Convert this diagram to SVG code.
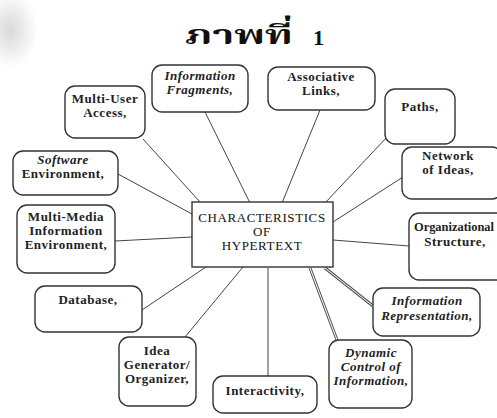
<svg xmlns="http://www.w3.org/2000/svg" width="497" height="418" viewBox="0 0 497 418">
<defs>
<radialGradient id="smudge" cx="0.5" cy="0.5" r="0.5">
<stop offset="0" stop-color="#c8c8c8" stop-opacity="0.7"/>
<stop offset="1" stop-color="#c8c8c8" stop-opacity="0"/>
</radialGradient>
</defs>
<style>
.box{fill:#fff;stroke:#333;stroke-width:1.4}
.t{font-family:"Liberation Serif","DejaVu Serif",serif;font-size:13px;font-weight:bold;fill:#222;text-anchor:middle;letter-spacing:0.5px}
.ti{font-style:italic}
.c{font-family:"Liberation Serif","DejaVu Serif",serif;font-size:13px;fill:#111;text-anchor:middle;letter-spacing:0.6px}
.ln{stroke:#444;stroke-width:1;fill:none}
.dbl{stroke:#555;stroke-width:3;fill:none}
.dbi{stroke:#fff;stroke-width:1;fill:none}
.title{font-family:"Liberation Serif","DejaVu Serif","Noto Serif Thai","Noto Sans Thai",serif;font-weight:bold;fill:#111}
</style>
<rect width="497" height="418" fill="#fff"/>
<ellipse cx="10" cy="30" rx="28" ry="38" fill="url(#smudge)"/>
<text class="title" x="185" y="44" font-size="27" textLength="108" lengthAdjust="spacingAndGlyphs">ภาพที่</text>
<text class="title" x="313" y="45" font-size="22">1</text>

<g id="connectors">
<line class="ln" x1="205" y1="112" x2="250" y2="203"/>
<line class="ln" x1="320" y1="110" x2="282" y2="203"/>
<line class="ln" x1="387" y1="137" x2="325" y2="203"/>
<line class="ln" x1="403" y1="177" x2="333" y2="222"/>
<line class="ln" x1="333" y1="240" x2="409" y2="246"/>
<line class="dbl" x1="325" y1="268" x2="373" y2="306"/>
<line class="dbi" x1="325" y1="268" x2="373" y2="306"/>
<line class="dbl" x1="310" y1="268" x2="337" y2="340"/>
<line class="dbi" x1="310" y1="268" x2="337" y2="340"/>
<line class="ln" x1="268" y1="268" x2="268" y2="376"/>
<line class="ln" x1="243" y1="267" x2="185" y2="337"/>
<line class="ln" x1="206" y1="267" x2="142" y2="310"/>
<line class="ln" x1="115" y1="241" x2="192" y2="237"/>
<line class="ln" x1="118" y1="174" x2="192" y2="214"/>
<line class="ln" x1="143" y1="139" x2="200" y2="202"/>
</g>

<g id="center">
<rect x="192" y="202" width="141" height="65" fill="#fff" stroke="#333" stroke-width="1.4"/>
<text class="c" x="262" y="222">CHARACTERISTICS</text>
<text class="c" x="262" y="236">OF</text>
<text class="c" x="262" y="250">HYPERTEXT</text>
</g>

<g id="n-fragments">
<rect class="box" x="152" y="65" width="96" height="47" rx="10"/>
<text class="t ti" x="200" y="80">Information</text>
<text class="t ti" x="200" y="94">Fragments,</text>
</g>
<g id="n-multiuser">
<rect class="box" x="65" y="86" width="80" height="52" rx="10"/>
<text class="t" x="105" y="103">Multi-User</text>
<text class="t" x="105" y="117">Access,</text>
</g>
<g id="n-software">
<rect class="box" x="13" y="151" width="105" height="44" rx="10"/>
<text class="t ti" x="63" y="164">Software</text>
<text class="t" x="63" y="178">Environment,</text>
</g>
<g id="n-associative">
<rect class="box" x="268" y="67" width="107" height="43" rx="10"/>
<text class="t" x="321" y="81">Associative</text>
<text class="t" x="321" y="95">Links,</text>
</g>
<g id="n-paths">
<rect class="box" x="385" y="89" width="70" height="55" rx="10"/>
<text class="t" x="420" y="111">Paths,</text>
</g>
<g id="n-network">
<rect class="box" x="402" y="147" width="100" height="52" rx="10"/>
<text class="t" x="448" y="160">Network</text>
<text class="t" x="448" y="174">of Ideas,</text>
</g>
<g id="n-organizational">
<rect class="box" x="409" y="213" width="100" height="67" rx="10"/>
<text class="t" x="414" y="231" style="text-anchor:start;letter-spacing:0" textLength="80" lengthAdjust="spacingAndGlyphs">Organizational</text>
<text class="t" x="455" y="246">Structure,</text>
</g>
<g id="n-representation">
<rect class="box" x="373" y="288" width="107" height="48" rx="10"/>
<text class="t ti" x="427" y="305">Information</text>
<text class="t ti" x="427" y="320">Representation,</text>
</g>
<g id="n-dynamic">
<rect class="box" x="329" y="340" width="83" height="68" rx="10"/>
<text class="t ti" x="371" y="357">Dynamic</text>
<text class="t ti" x="371" y="371">Control of</text>
<text class="t ti" x="371" y="385">Information,</text>
</g>
<g id="n-interactivity">
<rect class="box" x="213" y="376" width="104" height="37" rx="10"/>
<text class="t" x="265" y="395">Interactivity,</text>
</g>
<g id="n-idea">
<rect class="box" x="119" y="337" width="77" height="69" rx="10"/>
<text class="t" x="157" y="355">Idea</text>
<text class="t" x="157" y="369">Generator/</text>
<text class="t" x="157" y="383">Organizer,</text>
</g>
<g id="n-database">
<rect class="box" x="35" y="286" width="107" height="46" rx="10"/>
<text class="t" x="88" y="304">Database,</text>
</g>
<g id="n-multimedia">
<rect class="box" x="17" y="205" width="98" height="68" rx="10"/>
<text class="t" x="66" y="221">Multi-Media</text>
<text class="t" x="66" y="235">Information</text>
<text class="t" x="66" y="249">Environment,</text>
</g>
</svg>
